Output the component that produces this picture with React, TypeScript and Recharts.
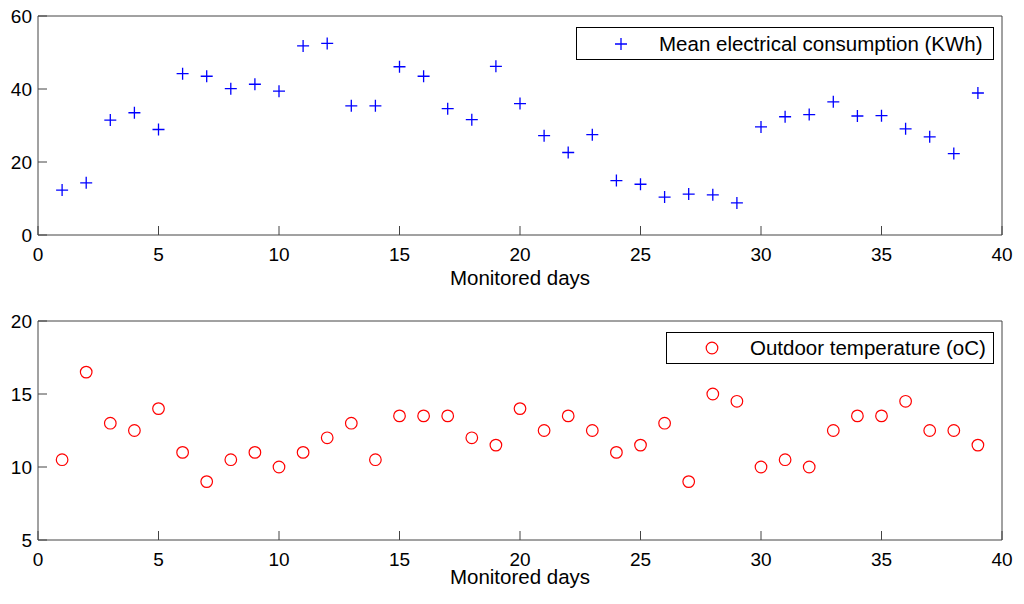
import React from "react"
import { ScatterChart, Scatter, XAxis, YAxis, Legend } from "recharts"

// monitored days (x) shared by both panels
const days = [1, 2, 3, 4, 5, 6, 7, 8, 9, 10, 11, 12, 13, 14, 15, 16, 17, 18, 19, 20,
    21, 22, 23, 24, 25, 26, 27, 28, 29, 30, 31, 32, 33, 34, 35, 36, 37, 38, 39]

const consumption = [12.3, 14.3, 31.5, 33.5, 28.9, 44.2, 43.5, 40.1, 41.3, 39.4,
    51.8, 52.5, 35.4, 35.4, 46.1, 43.5, 34.6, 31.6, 46.2, 36.0,
    27.2, 22.6, 27.5, 14.9, 13.9, 10.4, 11.2, 11.0, 8.8, 29.6,
    32.4, 33.0, 36.5, 32.6, 32.7, 29.1, 26.9, 22.3, 38.9]

const temperature = [10.5, 16.5, 13, 12.5, 14, 11, 9, 10.5, 11, 10,
    11, 12, 13, 10.5, 13.5, 13.5, 13.5, 12, 11.5, 14,
    12.5, 13.5, 12.5, 11, 11.5, 13, 9, 15, 14.5, 10,
    10.5, 10, 12.5, 13.5, 13.5, 14.5, 12.5, 12.5, 11.5]

const xTicks = [0, 5, 10, 15, 20, 25, 30, 35, 40]
const consumptionTicks = [0, 20, 40, 60]
const temperatureTicks = [5, 10, 15, 20]

const xLabel = "Monitored days"
const consumptionName = "Mean electrical consumption (KWh)"
const temperatureName = "Outdoor temperature (oC)"

const consumptionData = days.map((d, i) => ({ day: d, value: consumption[i] }))
const temperatureData = days.map((d, i) => ({ day: d, value: temperature[i] }))

const FONT = "'Liberation Sans', Arial, Helvetica, sans-serif"
const FRAME = "#444444"
const TICK = 9
const FS = 19      // tick labels
const FS_TEXT = 20.5 // axis title, legend

const BottomTick = (p: any) => (
    <g>
        <line x1={p.x} y1={p.y} x2={p.x} y2={p.y - TICK} stroke={FRAME} />
        <text x={p.x} y={p.y + 25.5} textAnchor="middle" fontSize={FS} fontFamily={FONT} fill="#000">
            {p.payload.value}
        </text>
    </g>
)

const TopTick = (p: any) => (
    <line x1={p.x} y1={p.y} x2={p.x} y2={p.y + TICK} stroke={FRAME} />
)

const LeftTick = (p: any) => (
    <g>
        <line x1={p.x} y1={p.y} x2={p.x + TICK} y2={p.y} stroke={FRAME} />
        <text x={p.x - 6} y={p.y} dy="0.36em" textAnchor="end" fontSize={FS} fontFamily={FONT} fill="#000">
            {p.payload.value}
        </text>
    </g>
)

const RightTick = (p: any) => (
    <line x1={p.x} y1={p.y} x2={p.x - TICK} y2={p.y} stroke={FRAME} />
)

const PlusShape = (p: any) => (
    <path d={`M${p.cx - 6},${p.cy}h12M${p.cx},${p.cy - 6}v12`} stroke="#0000ff" strokeWidth={1.3} fill="none" />
)

const CircleShape = (p: any) => (
    <circle cx={p.cx} cy={p.cy} r={5.8} stroke="#ff0000" strokeWidth={1.2} fill="none" />
)

function LegendBox({ payload, marker, markerLeft, textLeft }: any) {
    const label = payload && payload.length ? payload[0].value : ""
    return (
        <div style={{ position: "relative", width: "100%", height: "100%", boxSizing: "border-box", border: "1px solid #000", background: "#fff" }}>
            <svg width={20} height={20} style={{ position: "absolute", left: markerLeft - 10, top: "50%", marginTop: -10 }}>
                {marker === "plus"
                    ? <path d="M4,10h12M10,4v12" stroke="#0000ff" strokeWidth={1.3} fill="none" />
                    : <circle cx={10} cy={10} r={5.8} stroke="#ff0000" strokeWidth={1.2} fill="none" />}
            </svg>
            <span style={{ position: "absolute", left: textLeft, top: "50%", transform: "translateY(-50%)", fontFamily: FONT, fontSize: FS_TEXT, color: "#000", whiteSpace: "nowrap", lineHeight: 1 }}>
                {label}
            </span>
        </div>
    )
}

const xLabelAt = (dy: number) => (props: any) => {
    const vb = props.viewBox
    return (
        <text x={vb.x + vb.width / 2} y={vb.y + dy} textAnchor="middle" fontSize={FS_TEXT} fontFamily={FONT} fill="#000">
            {xLabel}
        </text>
    )
}

function Panel({ data, name, domain, yTicks, top, bottom, titleDy, legend, marker }: any) {
    return (
        <ScatterChart width={1024} height={302} margin={{ top: 0, right: 0, bottom: 0, left: 0 }}>
            <XAxis xAxisId="b" dataKey="day" type="number" domain={[0, 40]} ticks={xTicks} interval={0}
                orientation="bottom" height={bottom} tickSize={0} tickMargin={0}
                stroke={FRAME} tick={BottomTick} label={xLabelAt(titleDy)} />
            <XAxis xAxisId="t" dataKey="day" type="number" domain={[0, 40]} ticks={xTicks} interval={0}
                orientation="top" height={top} tickSize={0} tickMargin={0}
                stroke={FRAME} tick={TopTick} />
            <YAxis yAxisId="l" dataKey="value" type="number" domain={domain} ticks={yTicks} interval={0}
                orientation="left" width={38} tickSize={0} tickMargin={0}
                stroke={FRAME} tick={LeftTick} />
            <YAxis yAxisId="r" type="number" domain={domain} ticks={yTicks} interval={0}
                orientation="right" width={22} tickSize={0} tickMargin={0}
                stroke={FRAME} tick={RightTick} />
            <Legend layout="horizontal" verticalAlign="middle" align="center"
                wrapperStyle={{ position: "absolute", left: legend.left, top: legend.top, width: legend.width, height: legend.height }}
                content={(props: any) => (
                    <LegendBox payload={props.payload} marker={marker} markerLeft={legend.marker} textLeft={legend.text} />
                )} />
            <Scatter name={name} data={data} xAxisId="b" yAxisId="l"
                shape={marker === "plus" ? PlusShape : CircleShape}
                fill={marker === "plus" ? "#0000ff" : "#ff0000"}
                isAnimationActive={false} />
        </ScatterChart>
    )
}

export default function App() {
    return (
        <div style={{ position: "absolute", left: 0, top: 0, width: 1024, height: 604, background: "#fff" }}>
            <Panel data={consumptionData} name={consumptionName} domain={[0, 60]} yTicks={consumptionTicks}
                top={16} bottom={67} titleDy={50} marker="plus"
                legend={{ left: 576, top: 27, width: 418, height: 33, marker: 44, text: 82 }} />
            <Panel data={temperatureData} name={temperatureName} domain={[5, 20]} yTicks={temperatureTicks}
                top={19} bottom={64} titleDy={44} marker="circle"
                legend={{ left: 666, top: 30, width: 328, height: 32, marker: 45, text: 83 }} />
        </div>
    )
}
